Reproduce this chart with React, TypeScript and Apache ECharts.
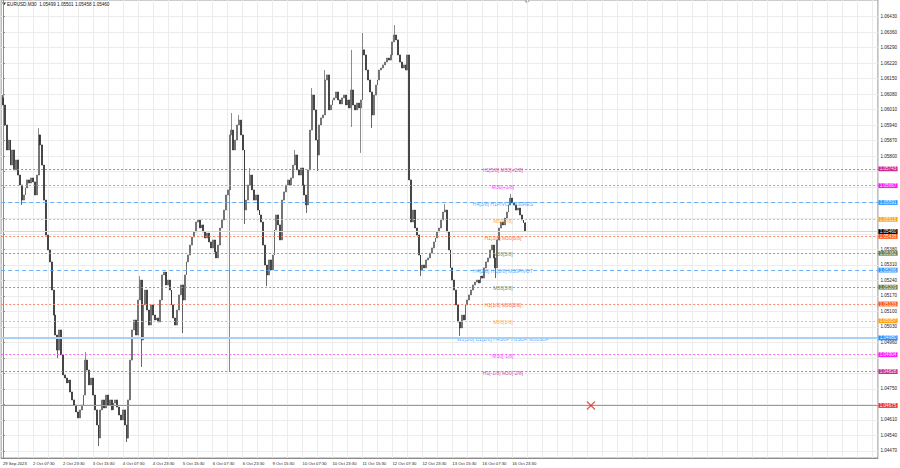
import React, { useEffect, useRef } from 'react';
import * as echarts from 'echarts';

// ---------- data ----------
const symbolName = 'EURUSD,M30';
const firstOpen = 1.06063;
// one candle per hour (bar index 0 = 29 Sep 2023)
const closes = [
  1.06031, 1.05941, 1.05828, 1.05873, 1.05760, 1.05828, 1.05738, 1.05783, 1.05715, 1.05670,
  1.05602, 1.05625, 1.05657, 1.05693, 1.05679, 1.05702, 1.05684, 1.05625, 1.05715, 1.05896,
  1.05851, 1.05760, 1.05602, 1.05444, 1.05377, 1.05323, 1.05196, 1.05083, 1.04993, 1.04925,
  1.05016, 1.04903, 1.04813, 1.04799, 1.04777, 1.04790, 1.04736, 1.04700, 1.04677, 1.04646,
  1.04619, 1.04655, 1.04677, 1.04722, 1.04880, 1.04835, 1.04768, 1.04799, 1.04722, 1.04655,
  1.04587, 1.04528, 1.04655, 1.04700, 1.04664, 1.04722, 1.04677, 1.04700, 1.04655, 1.04686,
  1.04700, 1.04668, 1.04632, 1.04610, 1.04655, 1.04587, 1.04528, 1.04700, 1.04880, 1.05016,
  1.05061, 1.04993, 1.05151, 1.05241, 1.04971, 1.05129, 1.05196, 1.05106, 1.05038, 1.05129,
  1.05083, 1.05061, 1.05070, 1.05052, 1.05151, 1.05264, 1.05277, 1.05219, 1.05241, 1.05196,
  1.05129, 1.05070, 1.05038, 1.05106, 1.05174, 1.05219, 1.05151, 1.05264, 1.05323, 1.05354,
  1.05399, 1.05435, 1.05458, 1.05503, 1.05512, 1.05476, 1.05490, 1.05458, 1.05431, 1.05453,
  1.05413, 1.05386, 1.05422, 1.05368, 1.05341, 1.05399, 1.05476, 1.05512, 1.05557, 1.05625,
  1.05648, 1.05896, 1.05918, 1.05828, 1.05873, 1.05941, 1.05963, 1.05896, 1.05828, 1.05557,
  1.05602, 1.05670, 1.05715, 1.05648, 1.05602, 1.05625, 1.05557, 1.05535, 1.05503, 1.05399,
  1.05309, 1.05264, 1.05332, 1.05287, 1.05354, 1.05467, 1.05535, 1.05490, 1.05422, 1.05602,
  1.05639, 1.05670, 1.05693, 1.05670, 1.05702, 1.05760, 1.05806, 1.05738, 1.05715, 1.05747,
  1.05670, 1.05625, 1.05580, 1.05738, 1.05918, 1.06076, 1.06009, 1.05873, 1.05806, 1.05941,
  1.05973, 1.05986, 1.06144, 1.06167, 1.06009, 1.06031, 1.06054, 1.06063, 1.06090, 1.06054,
  1.06036, 1.06063, 1.06076, 1.06031, 1.06054, 1.06018, 1.06099, 1.06031, 1.06009, 1.06040,
  1.06018, 1.06054, 1.06280, 1.06257, 1.06189, 1.06144, 1.06090, 1.05986, 1.06076, 1.06121,
  1.06144, 1.06189, 1.06198, 1.06212, 1.06225, 1.06243, 1.06234, 1.06257, 1.06316, 1.06347,
  1.06325, 1.06257, 1.06225, 1.06198, 1.06212, 1.06189, 1.06257, 1.05693, 1.05503, 1.05557,
  1.05476, 1.05444, 1.05354, 1.05287, 1.05309, 1.05296, 1.05332, 1.05341, 1.05363, 1.05386,
  1.05413, 1.05431, 1.05458, 1.05476, 1.05512, 1.05548, 1.05557, 1.05458, 1.05377, 1.05296,
  1.05241, 1.05196, 1.05129, 1.05052, 1.05025, 1.05083, 1.05061, 1.05129, 1.05151, 1.05174,
  1.05196, 1.05219, 1.05232, 1.05241, 1.05228, 1.05259, 1.05250, 1.05296, 1.05323, 1.05341,
  1.05377, 1.05399, 1.05341, 1.05296, 1.05422, 1.05476, 1.05503, 1.05490, 1.05521, 1.05548,
  1.05580, 1.05611, 1.05589, 1.05580, 1.05557, 1.05566, 1.05535, 1.05512, 1.05499, 1.05460,
];
// [bar index, price] of wicks reaching beyond the candle body
const wickHighs: [number, number][] = [
  [0, 1.06076], [19, 1.05927], [44, 1.04916], [73, 1.05259], [122, 1.05995], [126, 1.05986],
  [132, 1.05747], [156, 1.05828], [165, 1.06108], [172, 1.06189], [186, 1.06280], [192, 1.06356],
  [209, 1.06392], [236, 1.05584], [271, 1.05630], [279, 1.05501],
];
const wickLows: [number, number][] = [
  [10, 1.05580], [29, 1.04889], [51, 1.04492], [66, 1.04510], [74, 1.04849], [96, 1.05002],
  [121, 1.04826], [129, 1.05494], [141, 1.05214], [162, 1.05544], [168, 1.05733], [186, 1.05932],
  [191, 1.05815], [197, 1.05927], [223, 1.05259], [244, 1.04989], [263, 1.05250], [279, 1.05458],
];

// grid rows of the price scale
const priceTicks = [
  1.0447, 1.0454, 1.0461, 1.0468, 1.0475, 1.0482, 1.0489, 1.0496, 1.0503, 1.051,
  1.0517, 1.0524, 1.0531, 1.0538, 1.0545, 1.0552, 1.0559, 1.0566, 1.0573, 1.058,
  1.0587, 1.0594, 1.0601, 1.0608, 1.0615, 1.0622, 1.0629, 1.0636, 1.0643,
];
// price labels left visible (the others are hidden under the coloured price tags)
const priceLabels = [
  1.0447, 1.0454, 1.0461, 1.0475, 1.0496, 1.0503, 1.051,
  1.0517, 1.0524, 1.0531, 1.0538, 1.058,
  1.0587, 1.0594, 1.0601, 1.0608, 1.0615, 1.0622, 1.0629, 1.0636, 1.0643,
];
const timeLabels = [
  '29 Sep 2023', '2 Oct 07:30', '2 Oct 23:30', '3 Oct 15:30', '4 Oct 07:30', '4 Oct 23:30',
  '5 Oct 15:30', '6 Oct 07:30', '6 Oct 23:30', '9 Oct 15:30', '10 Oct 07:30', '10 Oct 23:30',
  '11 Oct 15:30', '12 Oct 07:30', '12 Oct 23:30', '13 Oct 15:30', '16 Oct 07:30', '16 Oct 23:30',
];
const timeLabelBars = [0, 16, 32, 48, 64, 80, 96, 112, 128, 144, 160, 176, 192, 208, 224, 240, 256, 272];

const levelValues = [
  1.05743, 1.05667, 1.05591, 1.05515, 1.05438, 1.05362, 1.05286, 1.05209, 1.05133, 1.05057,
  1.04980, 1.04904, 1.04828,
];
const levelNames = [
  'H1[5/8] M30[+2/8]', 'M30[+1/8]', 'H4[3/8] H1PIVOT M30RES', 'M30[7/8]', 'H1[3/8] M30[6/8]',
  'M30[5/8]', 'H4[2/8] H1[2/8] M30PIVOT', 'M30[3/8]', 'H1[1/8] M30[2/8]', 'M30[1/8]',
  'W1[5/8] D1[2/8] H4SUP H1SUP M30SUP', 'M30[-1/8]', 'H1[-1/8] M30[-2/8]',
];
const levelKinds = ['p2', 'p1', 'blue', 'orange', 'red', 'olive', 'blue', 'olive', 'red', 'orange', 'sup', 'p1', 'p2'];
const bidPrice = 1.0546;
const stopPrice = 1.04675;
const stopBar = 314;
const levelLabelBar = 267;

// ---------- styles ----------
const kindStyle: Record<string, { color: string; line: string; type: any; width: number; opacity: number }> = {
  p2: { color: '#c71585', line: '#d65aa8', type: [2, 2], width: 1, opacity: 0.9 },
  p1: { color: '#ff00ff', line: '#f060f0', type: [2, 2], width: 1, opacity: 0.9 },
  blue: { color: '#1e90ff', line: '#5aa8f5', type: [4, 3], width: 1, opacity: 0.9 },
  orange: { color: '#ff9900', line: '#f7b060', type: [2, 2], width: 1, opacity: 0.9 },
  red: { color: '#ff4500', line: '#f5845f', type: [2, 2], width: 1, opacity: 0.9 },
  olive: { color: '#556b2f', line: '#8a9866', type: [2, 2], width: 1, opacity: 0.9 },
  sup: { color: '#1e90ff', line: '#a9d0f7', type: 'solid', width: 2, opacity: 1 },
};
const FONT = 'Liberation Sans, Arial, sans-serif';

export default function App() {
  const ref = useRef<HTMLDivElement>(null);
  useEffect(() => {
    document.body.style.margin = '0';
    if (!ref.current) return;
    const chart = echarts.init(ref.current, undefined, { renderer: 'svg' });

    const candles = closes.map((c, i) => {
      const o = i === 0 ? firstOpen : closes[i - 1];
      return [i, o, c, Math.min(o, c), Math.max(o, c)];
    });
    wickHighs.forEach(([i, v]) => { candles[i][4] = Math.max(candles[i][4], v); });
    wickLows.forEach(([i, v]) => { candles[i][3] = Math.min(candles[i][3], v); });
    const last = candles[candles.length - 1];
    const f5 = (v: number) => v.toFixed(5);
    const titleText = `${symbolName}  ${f5(last[1])} ${f5(last[4])} ${f5(last[3])} ${f5(last[2])}`;

    const tag = (bg: string) => ({
      show: true,
      position: 'end',
      distance: 0.5,
      formatter: (p: any) => f5(p.value),
      fontSize: 4.6,
      lineHeight: 4.4,
      color: '#ffffff',
      backgroundColor: bg,
      padding: [0.3, 1.3, 0.1, 1.3],
    });

    const markData: any[] = levelValues.map((v, k) => {
      const s = kindStyle[levelKinds[k]];
      return {
        yAxis: v,
        lineStyle: { color: s.line, type: s.type, width: s.width, opacity: s.opacity },
        label: tag(s.color),
      };
    });
    markData.push({
      yAxis: bidPrice,
      lineStyle: { color: '#d6d6d6', type: 'solid', width: 1, opacity: 1 },
      label: tag('#000000'),
    });
    markData.push({
      yAxis: stopPrice,
      lineStyle: { color: '#e87a6e', type: 'solid', width: 1, opacity: 1 },
      label: tag('#f0302a'),
    });

    const gridBars = Array.from({ length: 59 }, (_, k) => k * 8);

    const option: any = {
      animation: false,
      backgroundColor: '#ffffff',
      textStyle: { fontFamily: FONT },
      title: {
        text: titleText,
        left: 7,
        top: 2,
        padding: 0,
        textStyle: { fontSize: 4.6, fontWeight: 'normal', color: '#111', fontFamily: FONT },
      },
      grid: {
        left: 0, right: 22, top: 0, bottom: 10,
        show: true, borderColor: '#9a9a9a', borderWidth: 1, backgroundColor: '#ffffff',
      },
      xAxis: {
        type: 'value',
        min: -1,
        max: 467.27,
        axisLine: { show: true, lineStyle: { color: '#8c8c8c' } },
        axisTick: { show: false, customValues: gridBars },
        splitLine: { show: true, lineStyle: { color: '#ececec', width: 1 } },
        axisLabel: {
          customValues: timeLabelBars,
          formatter: (v: number) => {
            const k = timeLabelBars.indexOf(Math.round(v));
            return k >= 0 ? timeLabels[k] : '';
          },
          align: 'left',
          margin: 3,
          fontSize: 4.2,
          color: '#222',
        },
      },
      yAxis: {
        type: 'value',
        position: 'right',
        min: 1.04438,
        max: 1.06505,
        scale: true,
        axisLine: { show: true, lineStyle: { color: '#8c8c8c' } },
        axisTick: { show: true, length: 2, customValues: priceTicks, lineStyle: { color: '#8c8c8c' } },
        splitLine: { show: true, lineStyle: { color: '#ececec', width: 1 } },
        axisLabel: {
          customValues: priceLabels,
          formatter: (v: number) => v.toFixed(5),
          margin: 2.5,
          fontSize: 4.6,
          color: '#222',
        },
      },
      series: [
        {
          type: 'candlestick',
          dimensions: ['bar', 'open', 'close', 'lowest', 'highest'],
          encode: { x: 'bar', y: ['open', 'close', 'lowest', 'highest'] },
          data: candles,
          barWidth: 1.4,
          itemStyle: {
            color: '#6e6e6e', color0: '#262626',
            borderColor: '#5a5a5a', borderColor0: '#262626', borderWidth: 0.7,
          },
          markLine: {
            silent: true,
            symbol: ['none', 'none'],
            animation: false,
            precision: 5,
            data: markData,
          },
          z: 2,
        },
        {
          type: 'scatter',
          data: levelValues.map((v, k) => ({
            value: [levelLabelBar, v],
            name: levelNames[k],
            label: { color: kindStyle[levelKinds[k]].color },
          })),
          symbolSize: 1,
          itemStyle: { color: 'rgba(0,0,0,0)' },
          label: { show: true, formatter: '{b}', position: 'inside', fontSize: 5, offset: [0, 1.2] },
          silent: true,
          z: 4,
        },
        {
          type: 'scatter',
          data: [[stopBar, stopPrice]],
          symbol: 'path://M1,0L5,4L9,0L10,1L6,5L10,9L9,10L5,6L1,10L0,9L4,5L0,1Z',
          symbolSize: 9,
          itemStyle: { color: '#e0352b' },
          silent: true,
          z: 5,
        },
      ],
      graphic: [
        { type: 'polygon', shape: { points: [[2, 2.5], [6, 2.5], [4, 5.5]] }, style: { fill: '#333' } },
        { type: 'polygon', shape: { points: [[524, 0.5], [530, 0.5], [527, 3.5]] }, style: { fill: '#aaa' } },
      ],
    };
    chart.setOption(option);
    return () => chart.dispose();
  }, []);
  return <div ref={ref} style={{ width: 900, height: 468 }} />;
}
